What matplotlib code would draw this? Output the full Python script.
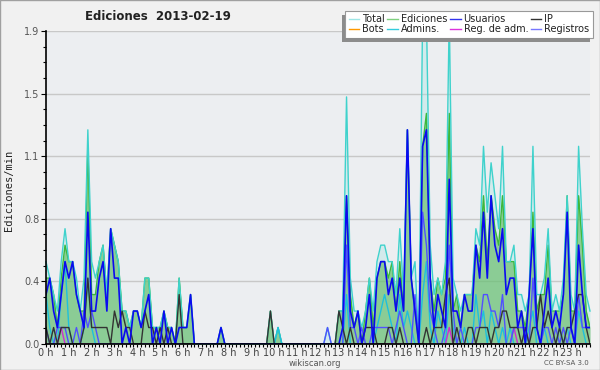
import numpy as np
import matplotlib
matplotlib.use('Agg')
import matplotlib.pyplot as plt
from matplotlib.ticker import MultipleLocator, FormatStrFormatter
from matplotlib.lines import Line2D
from matplotlib.patches import Rectangle

# one value every 10 minutes (edits per minute), 24 rows of 6
hour_labels = ['%d h' % h for h in range(24)]

total = [
    0.5, 0.4, 0.3, 0.2, 0.5, 0.7,
    0.5, 0.5, 0.4, 0.2, 0.4, 1.3,
    0.5, 0.4, 0.5, 0.6, 0.3, 0.7,
    0.6, 0.5, 0.2, 0.2, 0.1, 0.2,
    0.2, 0.1, 0.4, 0.4, 0.1, 0.1,
    0.1, 0.2, 0.1, 0.1, 0.0, 0.4,
    0.1, 0.1, 0.3, 0.0, 0.0, 0.0,
    0.0, 0.0, 0.0, 0.0, 0.1, 0.0,
    0.0, 0.0, 0.0, 0.0, 0.0, 0.0,
    0.0, 0.0, 0.0, 0.0, 0.0, 0.2,
    0.0, 0.1, 0.0, 0.0, 0.0, 0.0,
    0.0, 0.0, 0.0, 0.0, 0.0, 0.0,
    0.0, 0.0, 0.1, 0.0, 0.0, 0.2,
    0.2, 1.5, 0.4, 0.2, 0.2, 0.1,
    0.2, 0.4, 0.2, 0.5, 0.6, 0.6,
    0.5, 0.5, 0.3, 0.7, 0.3, 1.3,
    0.4, 0.5, 0.0, 2.0, 2.0, 0.6,
    0.3, 0.4, 0.3, 0.5, 2.0, 0.4,
    0.3, 0.2, 0.3, 0.3, 0.3, 0.7,
    0.6, 1.2, 0.8, 1.1, 0.9, 0.7,
    1.2, 0.5, 0.5, 0.6, 0.3, 0.3,
    0.2, 0.3, 1.2, 0.3, 0.3, 0.4,
    0.7, 0.2, 0.3, 0.2, 0.4, 0.9,
    0.3, 0.2, 1.2, 0.7, 0.3, 0.2,
]

ediciones = [
    0.4, 0.4, 0.3, 0.1, 0.4, 0.6,
    0.5, 0.5, 0.3, 0.2, 0.2, 1.2,
    0.3, 0.3, 0.5, 0.6, 0.3, 0.7,
    0.6, 0.5, 0.2, 0.2, 0.1, 0.2,
    0.2, 0.1, 0.4, 0.4, 0.1, 0.1,
    0.1, 0.2, 0.1, 0.1, 0.0, 0.4,
    0.1, 0.1, 0.3, 0.0, 0.0, 0.0,
    0.0, 0.0, 0.0, 0.0, 0.1, 0.0,
    0.0, 0.0, 0.0, 0.0, 0.0, 0.0,
    0.0, 0.0, 0.0, 0.0, 0.0, 0.2,
    0.0, 0.1, 0.0, 0.0, 0.0, 0.0,
    0.0, 0.0, 0.0, 0.0, 0.0, 0.0,
    0.0, 0.0, 0.0, 0.0, 0.0, 0.2,
    0.2, 0.9, 0.3, 0.1, 0.2, 0.0,
    0.2, 0.4, 0.1, 0.4, 0.5, 0.5,
    0.4, 0.5, 0.2, 0.5, 0.2, 1.3,
    0.4, 0.2, 0.0, 1.2, 1.4, 0.4,
    0.2, 0.4, 0.3, 0.4, 1.4, 0.2,
    0.3, 0.1, 0.3, 0.3, 0.3, 0.6,
    0.5, 0.9, 0.5, 0.9, 0.7, 0.6,
    0.9, 0.5, 0.5, 0.5, 0.2, 0.2,
    0.1, 0.3, 0.8, 0.2, 0.3, 0.3,
    0.6, 0.2, 0.2, 0.2, 0.3, 0.9,
    0.2, 0.2, 0.9, 0.6, 0.2, 0.1,
]

usuarios = [
    0.3, 0.4, 0.2, 0.1, 0.3, 0.5,
    0.4, 0.5, 0.3, 0.2, 0.1, 0.8,
    0.2, 0.2, 0.4, 0.5, 0.2, 0.7,
    0.4, 0.4, 0.0, 0.1, 0.0, 0.2,
    0.2, 0.1, 0.2, 0.3, 0.0, 0.1,
    0.0, 0.2, 0.0, 0.1, 0.0, 0.1,
    0.1, 0.1, 0.3, 0.0, 0.0, 0.0,
    0.0, 0.0, 0.0, 0.0, 0.1, 0.0,
    0.0, 0.0, 0.0, 0.0, 0.0, 0.0,
    0.0, 0.0, 0.0, 0.0, 0.0, 0.0,
    0.0, 0.0, 0.0, 0.0, 0.0, 0.0,
    0.0, 0.0, 0.0, 0.0, 0.0, 0.0,
    0.0, 0.0, 0.0, 0.0, 0.0, 0.0,
    0.1, 0.9, 0.2, 0.1, 0.2, 0.0,
    0.1, 0.3, 0.0, 0.4, 0.5, 0.5,
    0.3, 0.4, 0.2, 0.4, 0.2, 1.3,
    0.4, 0.2, 0.0, 1.2, 1.3, 0.4,
    0.1, 0.3, 0.2, 0.1, 1.0, 0.2,
    0.2, 0.1, 0.3, 0.2, 0.2, 0.6,
    0.4, 0.8, 0.4, 0.9, 0.6, 0.5,
    0.7, 0.3, 0.4, 0.4, 0.1, 0.2,
    0.0, 0.3, 0.7, 0.1, 0.0, 0.2,
    0.4, 0.1, 0.2, 0.1, 0.3, 0.8,
    0.1, 0.0, 0.6, 0.3, 0.1, 0.1,
]

ip = [
    0.1, 0.0, 0.1, 0.0, 0.1, 0.1,
    0.1, 0.0, 0.0, 0.0, 0.1, 0.4,
    0.1, 0.1, 0.1, 0.1, 0.1, 0.0,
    0.2, 0.1, 0.2, 0.1, 0.1, 0.0,
    0.0, 0.0, 0.2, 0.1, 0.1, 0.0,
    0.1, 0.0, 0.1, 0.0, 0.0, 0.3,
    0.0, 0.0, 0.0, 0.0, 0.0, 0.0,
    0.0, 0.0, 0.0, 0.0, 0.0, 0.0,
    0.0, 0.0, 0.0, 0.0, 0.0, 0.0,
    0.0, 0.0, 0.0, 0.0, 0.0, 0.2,
    0.0, 0.0, 0.0, 0.0, 0.0, 0.0,
    0.0, 0.0, 0.0, 0.0, 0.0, 0.0,
    0.0, 0.0, 0.0, 0.0, 0.0, 0.2,
    0.1, 0.0, 0.1, 0.0, 0.0, 0.0,
    0.1, 0.1, 0.1, 0.0, 0.0, 0.0,
    0.1, 0.1, 0.0, 0.1, 0.0, 0.0,
    0.0, 0.0, 0.0, 0.0, 0.1, 0.0,
    0.1, 0.1, 0.1, 0.3, 0.4, 0.0,
    0.1, 0.0, 0.0, 0.1, 0.1, 0.0,
    0.1, 0.1, 0.1, 0.0, 0.1, 0.1,
    0.2, 0.2, 0.1, 0.1, 0.1, 0.0,
    0.1, 0.0, 0.1, 0.1, 0.3, 0.1,
    0.2, 0.1, 0.0, 0.1, 0.0, 0.1,
    0.1, 0.2, 0.3, 0.3, 0.1, 0.0,
]

registros = [
    0.1, 0.0, 0.0, 0.1, 0.1, 0.1,
    0.0, 0.0, 0.1, 0.0, 0.2, 0.1,
    0.2, 0.1, 0.0, 0.0, 0.0, 0.0,
    0.0, 0.0, 0.0, 0.0, 0.0, 0.0,
    0.0, 0.0, 0.0, 0.0, 0.0, 0.0,
    0.0, 0.0, 0.0, 0.0, 0.0, 0.0,
    0.0, 0.0, 0.0, 0.0, 0.0, 0.0,
    0.0, 0.0, 0.0, 0.0, 0.0, 0.0,
    0.0, 0.0, 0.0, 0.0, 0.0, 0.0,
    0.0, 0.0, 0.0, 0.0, 0.0, 0.0,
    0.0, 0.0, 0.0, 0.0, 0.0, 0.0,
    0.0, 0.0, 0.0, 0.0, 0.0, 0.0,
    0.0, 0.0, 0.1, 0.0, 0.0, 0.0,
    0.0, 0.6, 0.1, 0.1, 0.0, 0.1,
    0.0, 0.0, 0.1, 0.1, 0.1, 0.1,
    0.1, 0.0, 0.1, 0.2, 0.1, 0.0,
    0.0, 0.3, 0.0, 0.8, 0.6, 0.2,
    0.1, 0.0, 0.0, 0.1, 0.6, 0.2,
    0.0, 0.1, 0.0, 0.0, 0.0, 0.1,
    0.1, 0.3, 0.3, 0.2, 0.2, 0.1,
    0.3, 0.0, 0.0, 0.1, 0.1, 0.1,
    0.1, 0.0, 0.4, 0.1, 0.0, 0.1,
    0.1, 0.0, 0.1, 0.0, 0.1, 0.0,
    0.1, 0.0, 0.3, 0.1, 0.1, 0.1,
]

admins = [
    0.3, 0.1, 0.0, 0.0, 0.3, 0.5,
    0.1, 0.0, 0.0, 0.0, 0.1, 0.4,
    0.1, 0.0, 0.0, 0.0, 0.0, 0.0,
    0.0, 0.0, 0.0, 0.0, 0.0, 0.0,
    0.0, 0.0, 0.0, 0.0, 0.0, 0.0,
    0.0, 0.0, 0.0, 0.0, 0.0, 0.0,
    0.0, 0.0, 0.0, 0.0, 0.0, 0.0,
    0.0, 0.0, 0.0, 0.0, 0.0, 0.0,
    0.0, 0.0, 0.0, 0.0, 0.0, 0.0,
    0.0, 0.0, 0.0, 0.0, 0.0, 0.0,
    0.0, 0.1, 0.0, 0.0, 0.0, 0.0,
    0.0, 0.0, 0.0, 0.0, 0.0, 0.0,
    0.0, 0.0, 0.0, 0.0, 0.0, 0.0,
    0.0, 0.3, 0.0, 0.0, 0.0, 0.0,
    0.0, 0.0, 0.0, 0.1, 0.2, 0.3,
    0.2, 0.1, 0.0, 0.3, 0.1, 0.2,
    0.1, 0.0, 0.0, 0.3, 0.5, 0.1,
    0.0, 0.2, 0.1, 0.0, 0.3, 0.1,
    0.0, 0.0, 0.1, 0.0, 0.0, 0.3,
    0.1, 0.2, 0.0, 0.2, 0.1, 0.0,
    0.1, 0.0, 0.1, 0.0, 0.0, 0.0,
    0.0, 0.1, 0.2, 0.0, 0.0, 0.1,
    0.0, 0.0, 0.0, 0.1, 0.0, 0.1,
    0.0, 0.0, 0.2, 0.1, 0.0, 0.0,
]

reg_adm = [0.0] * 144
reg_adm[4] = 0.1
reg_adm[106] = 0.1
reg_adm[123] = 0.1

bots = [0.0] * 144

colors = {
    'Total': '#3fd2cc',
    'Bots': '#ff9900',
    'Ediciones': '#3cb83c',
    'Admins.': '#1ec0dc',
    'Usuarios': '#0a0af0',
    'Reg. de adm.': '#d02cd0',
    'IP': '#333333',
    'Registros': '#5050ff',
}
legend_colors = {
    'Total': '#9ee6e6',
    'Bots': '#ff9900',
    'Ediciones': '#7fd07f',
    'Admins.': '#33ccdd',
    'Usuarios': '#3333ee',
    'Reg. de adm.': '#dd33dd',
    'IP': '#333333',
    'Registros': '#7777ff',
}


def box(fig, x0, y0, x1, y1, **kw):
    # rectangle given in pixels from the top-left corner
    r = Rectangle((x0 / 600, 1 - y1 / 370), (x1 - x0) / 600, (y1 - y0) / 370,
                  transform=fig.transFigure, **kw)
    fig.patches.append(r)
    return r


def main():
    fig = plt.figure(figsize=(6, 3.7), dpi=100, facecolor='#f1f1f1')
    ax = fig.add_axes([46 / 600, 1 - 344 / 370, 544 / 600, 313 / 370])
    ax.set_facecolor('#eceef1')

    x = np.arange(len(total)) / 6.0

    # fills
    ax.fill_between(x, total, color='#a5e4e4', alpha=0.35, lw=0, zorder=1)
    ax.fill_between(x, ediciones, color='#5cb85c', alpha=0.6, lw=0, zorder=1.2)

    ax.plot(x, bots, color=colors['Bots'], lw=1, zorder=1.5)
    ax.plot(x, ediciones, color=colors['Ediciones'], lw=1, zorder=2)
    ax.plot(x, total, color=colors['Total'], lw=1, zorder=2.1, clip_on=False)
    ax.plot(x, admins, color=colors['Admins.'], lw=1, zorder=2.2)
    ax.plot(x, reg_adm, color=colors['Reg. de adm.'], lw=1, zorder=2.2)
    ax.plot(x, registros, color=colors['Registros'], lw=1, zorder=2.3)
    ax.plot(x, ip, color=colors['IP'], lw=1, zorder=2.3)
    ax.plot(x, usuarios, color=colors['Usuarios'], lw=1.2, zorder=2.4)

    ax.set_xlim(0, (len(total) - 1) / 6.0)
    ax.set_ylim(0, 1.9)

    # y axis
    ax.set_yticks(np.linspace(0, 1.9, 6))
    ax.yaxis.set_major_formatter(FormatStrFormatter('%.1f'))
    ax.yaxis.set_minor_locator(MultipleLocator(0.095))
    ax.grid(axis='y', color='#c8c8c8', lw=1, zorder=0)
    ax.set_axisbelow(True)

    # x axis
    ax.set_xticks(range(24))
    ax.set_xticklabels(hour_labels)
    ax.xaxis.set_minor_locator(MultipleLocator(1 / 6.0))

    ax.tick_params(axis='y', which='major', length=3.6, width=0.8, labelsize=7,
                   labelcolor='#555555', pad=1)
    ax.tick_params(axis='y', which='minor', length=2, width=0.8)
    ax.tick_params(axis='x', which='both', length=2.2, width=0.8, labelsize=7,
                   labelcolor='#444444', pad=0.5)

    for s in ['top', 'right']:
        ax.spines[s].set_visible(False)
    for s in ['left', 'bottom']:
        ax.spines[s].set_color('black')
        ax.spines[s].set_linewidth(1.2)
        ax.spines[s].set_zorder(3)

    fig.text(9 / 600, 1 - 190 / 370, 'Ediciones/min', rotation=90, ha='center',
             va='center', fontsize=7.5, family='DejaVu Sans Mono', color='#222222')
    fig.text(85 / 600, 1 - 17 / 370, 'Ediciones  2013-02-19', ha='left',
             va='center', fontsize=8.5, fontweight='bold', color='#222222')
    fig.text(315 / 600, 1 - 363 / 370, 'wikiscan.org', ha='center', va='center',
             fontsize=6, color='#555555')
    fig.text(566 / 600, 1 - 363 / 370, 'CC BY-SA 3.0', ha='center', va='center',
             fontsize=5, color='#555555')

    # legend box: white frame, shadow strips on the left and bottom
    x0, y0, x1, y1 = 345, 11, 593, 38
    box(fig, x0, y0, x1, y1, facecolor='white', edgecolor='#999999', lw=0.8,
        zorder=4.5)
    box(fig, x0 - 3, y0 + 4, x0, y1 + 4, facecolor='#8c8c8c', edgecolor='none',
        zorder=4.5)
    box(fig, x0 - 3, y1, x1 - 3, y1 + 4, facecolor='#8c8c8c', edgecolor='none',
        zorder=4.5)

    # column-major order for 2 rows x 4 columns
    order = ['Total', 'Bots', 'Ediciones', 'Admins.', 'Usuarios',
             'Reg. de adm.', 'IP', 'Registros']
    handles = [Line2D([], [], color=legend_colors[k], lw=1) for k in order]
    leg = fig.legend(handles, order, ncol=4, loc='center',
                     bbox_to_anchor=((x0 + x1) / 2 / 600, 1 - (y0 + y1) / 2 / 370),
                     fontsize=7, frameon=False, borderpad=0, handlelength=1.1,
                     handletextpad=0.3, columnspacing=0.25, labelspacing=0.0,
                     borderaxespad=0)
    leg.set_zorder(5)
    for t in leg.get_texts():
        t.set_color('#222222')

    # outer border
    fig.patches.append(Rectangle((0.0008, 0.0013), 0.9984, 0.9974,
                                 transform=fig.transFigure, fill=False,
                                 edgecolor='#a0a0a0', lw=1))

    fig.savefig('out.png', dpi=100, facecolor=fig.get_facecolor())


if __name__ == '__main__':
    main()
